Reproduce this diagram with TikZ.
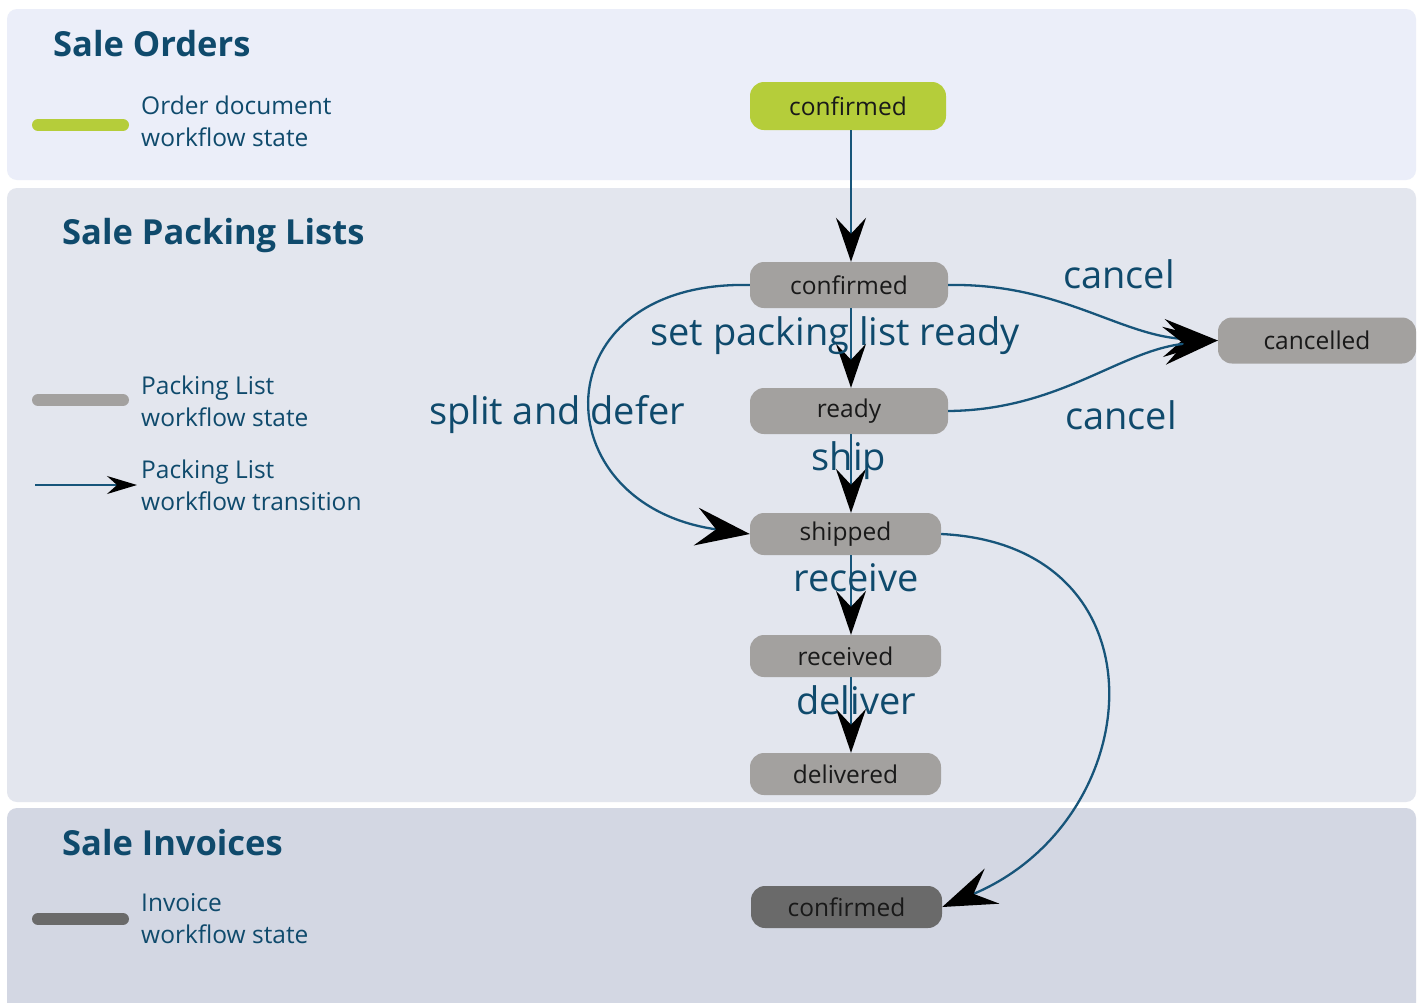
\documentclass[tikz,border=0pt]{standalone}
\usepackage{fontspec}
\setmainfont{Open Sans}
\usetikzlibrary{arrows.meta}
\definecolor{titleblue}{HTML}{0F4A6C}
\definecolor{edgeblue}{HTML}{17557A}
\definecolor{panelA}{HTML}{EBEEF9}
\definecolor{panelB}{HTML}{E3E6EE}
\definecolor{panelC}{HTML}{D3D7E3}
\definecolor{sogreen}{HTML}{B5CD3A}
\definecolor{plgray}{HTML}{A3A19F}
\definecolor{invgray}{HTML}{6A6A6A}
\tikzset{
  panel/.style={rounded corners=10pt, draw=none},
  title/.style={anchor=west, text=titleblue, font=\fontsize{34.5}{40}\selectfont\bfseries, inner sep=0pt},
  legtext/.style={anchor=west, text=titleblue, font=\fontsize{24.5}{32}\selectfont, align=left, inner sep=0pt},
  state/.style={rounded corners=14pt, minimum height=46pt, inner sep=0pt, text=black!90, font=\fontsize{24.5}{28}\selectfont},
  plstate/.style={state, fill=plgray},
  edge/.style={draw=edgeblue, line width=2.3pt, -{Stealth[length=44pt, width=30pt, inset=16pt, color=black]}},
  bigedge/.style={draw=edgeblue, line width=2.3pt, -{Stealth[length=54pt, width=38pt, inset=20pt, color=black]}},
  elabel/.style={text=titleblue, font=\fontsize{38}{42}\selectfont, inner sep=0pt},
  legbar/.style={line width=12pt, line cap=round}
}
\begin{document}
\begin{tikzpicture}[x=1pt,y=-1pt]
\useasboundingbox (0,0) rectangle (1423,1002);
\fill[white] (0,0) rectangle (1423,1002);
% panels
\fill[panel, fill=panelA] (7,9) rectangle (1416,180);
\fill[panel, fill=panelB] (7,188) rectangle (1416,802);
\fill[panel, fill=panelC] (7,808) rectangle (1416,1014);
% titles
\node[title] (t1) at (53,44) {Sale Orders};
\node[title] (t2) at (62,236) {Sale Packing Lists};
\node[title] (t3) at (62,843) {Sale Invoices};
% legends
\draw[legbar, draw=sogreen] (38,125) -- (123,125);
\node[legtext] (l1) at (141,121) {Order document\\workflow state};
\draw[legbar, draw=plgray] (38,400) -- (123,400);
\node[legtext] (l2) at (141,401) {Packing List\\workflow state};
\coordinate (la) at (35,485);
\coordinate (lb) at (137,485);
\draw[draw=edgeblue, line width=1.5pt, -{Stealth[length=30pt, width=18pt, inset=10pt, color=black]}] (la) -- (lb);
\node[legtext] (l3) at (141,485) {Packing List\\workflow transition};
\draw[legbar, draw=invgray] (38,919) -- (123,919);
\node[legtext] (l4) at (141,919) {Invoice\\workflow state};
% states
\node[state, fill=sogreen, minimum width=196pt, minimum height=48pt] (soc) at (848,106) {confirmed};
\node[plstate, minimum width=198pt] (plc) at (849,285) {confirmed};
\node[plstate, minimum width=198pt] (can) at (1317,340.5) {cancelled};
\node[plstate, minimum width=198pt] (rdy) at (849,411) {ready};
\node[plstate, minimum width=191pt, minimum height=42pt] (shp) at (845.5,534) {shipped};
\node[plstate, minimum width=191pt, minimum height=42pt] (rcv) at (845.5,656) {received};
\node[plstate, minimum width=191pt, minimum height=42pt] (dlv) at (845.5,774) {delivered};
\node[state, fill=invgray, minimum width=191pt, minimum height=42pt] (inv) at (846.5,907) {confirmed};
% edges
\draw[edge] (soc.south -| 851,0) -- (plc.north -| 851,0);
\draw[edge] (plc.south -| 851,0) -- (rdy.north -| 851,0);
\draw[edge] (rdy.south -| 851,0) -- (shp.north -| 851,0);
\draw[edge] (shp.south -| 851,0) -- (rcv.north -| 851,0);
\draw[edge] (rcv.south -| 851,0) -- (dlv.north -| 851,0);
\draw[bigedge] (plc.east) .. controls (1060,283) and (1120,336) .. (can.west);
\draw[bigedge] (rdy.east) .. controls (1060,410) and (1120,350) .. (can.west);
\draw[bigedge] (plc.west) .. controls (540,280) and (540,505) .. (shp.west);
\draw[bigedge] (shp.east) .. controls (1170,545) and (1150,820) .. (inv.east);
% edge labels
\node[elabel] (e1) at (835,336) {set packing list ready};
\node[elabel] (e2) at (849,461) {ship};
\node[elabel] (e3) at (856,578) {receive};
\node[elabel] (e4) at (856,700) {deliver};
\node[elabel] (e5) at (1119,274) {cancel};
\node[elabel] (e6) at (1121,415) {cancel};
\node[elabel] (e7) at (557,415) {split and defer};
\end{tikzpicture}
\end{document}
